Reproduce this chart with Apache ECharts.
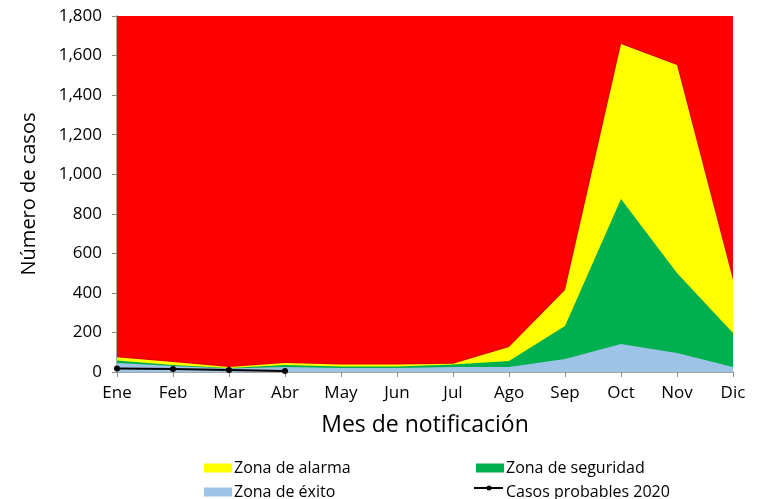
<!DOCTYPE html>
<html>
<head>
<meta charset="utf-8">
<script src="https://cdn.jsdelivr.net/npm/echarts@6/dist/echarts.min.js"></script>
<style>
  html, body { margin: 0; padding: 0; background: #fff; }
  #chart { width: 763px; height: 499px; }
</style>
</head>
<body>
<div id="chart"></div>
<script>
// meses
const meses = ['Ene', 'Feb', 'Mar', 'Abr', 'May', 'Jun', 'Jul', 'Ago', 'Sep', 'Oct', 'Nov', 'Dic']

// límites superiores de cada zona (canal endémico)
const epidemia = [1800, 1800, 1800, 1800, 1800, 1800, 1800, 1800, 1800, 1800, 1800, 1800]
const alarma = [75, 50, 25, 45, 38, 38, 42, 126, 415, 1658, 1552, 465]
const seguridad = [58, 35, 20, 35, 28, 28, 38, 56, 232, 875, 500, 197]
const exito = [45, 30, 18, 25, 20, 20, 25, 25, 66, 142, 96, 25]
const casos2020 = [18, 15, 10, 5]

const fuente = '"Open Sans", "Noto Sans", sans-serif'

let chartDom = document.getElementById('chart')
const myChart = echarts.init(chartDom)

let legendBase = {
  icon: 'rect',
  itemWidth: 28,
  itemHeight: 9,
  itemGap: 4,
  textStyle: { fontFamily: fuente, fontSize: 16, color: '#000', padding: [0, 0, 0, -3] }
}

let option = {
  animation: false,
  textStyle: { fontFamily: fuente },
  grid: { left: 117, right: 30, top: 16, bottom: 127 },
  legend: [
    Object.assign({ left: 199, top: 455, data: ['Zona de alarma'] }, legendBase),
    Object.assign({ left: 471, top: 455, data: ['Zona de seguridad'] }, legendBase),
    Object.assign({ left: 199, top: 479, data: ['Zona de éxito'] }, legendBase),
    Object.assign({ left: 471, top: 479, data: [{ name: 'Casos probables 2020', icon: 'none' }] }, legendBase)
  ],
  graphic: [
    {
      type: 'text',
      left: 198,
      top: 113,
      style: { text: 'Zona de epidemia', fill: '#fff', fontSize: 22, fontFamily: fuente }
    },
    // icono de la leyenda de la línea (línea con punto)
    {
      type: 'line',
      shape: { x1: 474, y1: 488, x2: 503, y2: 488 },
      style: { stroke: '#000', lineWidth: 2 }
    },
    {
      type: 'circle',
      shape: { cx: 489, cy: 488, r: 2.5 },
      style: { fill: '#000' }
    }
  ],
  xAxis: {
    type: 'category',
    data: meses,
    boundaryGap: false,
    name: 'Mes de notificación',
    nameLocation: 'middle',
    nameGap: 42,
    nameTextStyle: { fontSize: 23, color: '#000', fontFamily: fuente },
    axisLine: { lineStyle: { color: '#888', width: 1.5 } },
    axisTick: { show: true, length: 5, lineStyle: { color: '#888' } },
    axisLabel: { color: '#000', fontSize: 17, margin: 13 },
    splitLine: { show: false }
  },
  yAxis: {
    type: 'value',
    min: 0,
    max: 1800,
    interval: 200,
    name: 'Número de casos',
    nameLocation: 'middle',
    nameGap: 78,
    nameTextStyle: { fontSize: 20, color: '#000', fontFamily: fuente },
    axisLine: { show: true, lineStyle: { color: '#888', width: 1.5 } },
    axisTick: { show: true, length: 5, lineStyle: { color: '#888' } },
    axisLabel: {
      color: '#000',
      fontSize: 17,
      margin: 15,
      formatter: v => v.toLocaleString('en-US')
    },
    splitLine: { show: false }
  },
  series: [
    {
      name: 'Zona de epidemia',
      type: 'line',
      data: epidemia,
      symbol: 'none',
      lineStyle: { width: 0 },
      areaStyle: { color: '#ff0000', opacity: 1 },
      itemStyle: { color: '#ff0000' }
    },
    {
      name: 'Zona de alarma',
      type: 'line',
      data: alarma,
      symbol: 'none',
      lineStyle: { width: 0 },
      areaStyle: { color: '#ffff00', opacity: 1, shadowBlur: 3, shadowColor: 'rgba(120,0,0,0.6)' },
      itemStyle: { color: '#ffff00' }
    },
    {
      name: 'Zona de seguridad',
      type: 'line',
      data: seguridad,
      symbol: 'none',
      lineStyle: { width: 0 },
      areaStyle: { color: '#00b050', opacity: 1 },
      itemStyle: { color: '#00b050' }
    },
    {
      name: 'Zona de éxito',
      type: 'line',
      data: exito,
      symbol: 'none',
      lineStyle: { width: 0 },
      areaStyle: { color: '#9dc3e6', opacity: 1 },
      itemStyle: { color: '#9dc3e6' }
    },
    {
      name: 'Casos probables 2020',
      type: 'line',
      data: casos2020,
      symbol: 'circle',
      symbolSize: 6,
      lineStyle: { color: '#000', width: 2 },
      itemStyle: { color: '#000' },
      z: 5
    }
  ]
}

myChart.setOption(option)
</script>
</body>
</html>
